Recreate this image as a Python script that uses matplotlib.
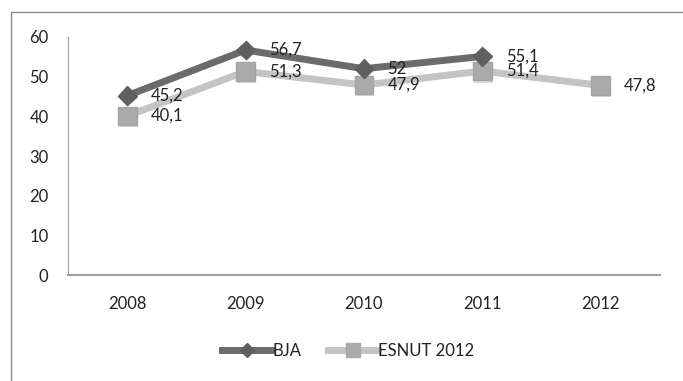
import matplotlib
matplotlib.use("Agg")
from matplotlib import pyplot as plt
from matplotlib.patches import Rectangle
import matplotlib.patheffects as pe

plt.rcParams['font.family'] = ['Lato', 'DejaVu Sans']

# Series values per year
years = ["2008", "2009", "2010", "2011", "2012"]
bja = [45.2, 56.7, 52, 55.1]
esnut = [40.1, 51.3, 47.9, 51.4, 47.8]
bja_labels = ["45,2", "56,7", "52", "55,1"]
esnut_labels = ["40,1", "51,3", "47,9", "51,4", "47,8"]

fig = plt.figure(figsize=(6.83, 3.81), dpi=100)
ax = fig.add_axes([0.0996, 0.278, 0.8664, 0.625])

# outer chart frame (top and left edges visible)
fig.patches.append(Rectangle((11 / 683, -0.05), 1.0, (381 - 12) / 381 + 0.05,
                             transform=fig.transFigure, fill=False,
                             edgecolor='#8c8c8c', linewidth=1.0))

x_bja = list(range(len(bja)))
x_es = list(range(len(esnut)))
shadow = [pe.SimplePatchShadow(offset=(0.8, -1.5), shadow_rgbFace='#999999', alpha=0.35),
          pe.Normal()]

# lines
ax.plot(x_es, esnut, color='#c4c4c4', linewidth=5, solid_capstyle='round', zorder=2)
ax.plot(x_bja, bja, color='#6b6b6b', linewidth=5, solid_capstyle='round', zorder=3)
# markers with a soft drop shadow
ax.plot(x_es, esnut, linestyle='none', marker='s', markersize=13.5,
        markerfacecolor='#aaaaaa', markeredgecolor='#a4a4a4', zorder=2.5,
        path_effects=shadow)
ax.plot(x_bja, bja, linestyle='none', marker='D', markersize=9.5,
        markerfacecolor='#5f5f5f', markeredgecolor='#5f5f5f', zorder=3.5,
        path_effects=shadow)

# legend proxies
ax.plot([], [], color='#6b6b6b', linewidth=5, marker='D', markersize=7,
        markerfacecolor='#5f5f5f', markeredgecolor='#5f5f5f', label='BJA')
ax.plot([], [], color='#c4c4c4', linewidth=5, marker='s', markersize=10,
        markerfacecolor='#aaaaaa', markeredgecolor='#aaaaaa', label='ESNUT 2012')

for xi, v, t in zip(x_bja, bja, bja_labels):
    ax.annotate(t, (xi, v), xytext=(17, 0), textcoords='offset points',
                va='center', ha='left', fontsize=12, color='#222222', zorder=4)
for xi, v, t in zip(x_es, esnut, esnut_labels):
    ax.annotate(t, (xi, v), xytext=(17, 0), textcoords='offset points',
                va='center', ha='left', fontsize=12, color='#222222', zorder=4)

ax.set_xlim(-0.5, len(years) - 0.5)
ax.set_ylim(0, 60)
ax.set_yticks(range(0, 61, 10))
ax.set_xticks(range(len(years)))
ax.set_xticklabels(years)
ax.tick_params(length=0, labelsize=12, colors='#222222')
ax.tick_params(axis='x', pad=15)
ax.tick_params(axis='y', pad=14)

for side in ['top', 'right']:
    ax.spines[side].set_visible(False)
ax.spines['left'].set_color('#a0a0a0')
ax.spines['bottom'].set_color('#a0a0a0')
ax.spines['bottom'].set_linewidth(1.5)

leg = fig.legend(loc='center', bbox_to_anchor=(0.51, 0.08),
                 ncol=2, frameon=False, fontsize=12, handlelength=3.0,
                 handletextpad=0.0, columnspacing=1.6)
for t in leg.get_texts():
    t.set_color('#222222')

fig.savefig("out.png", dpi=100)
